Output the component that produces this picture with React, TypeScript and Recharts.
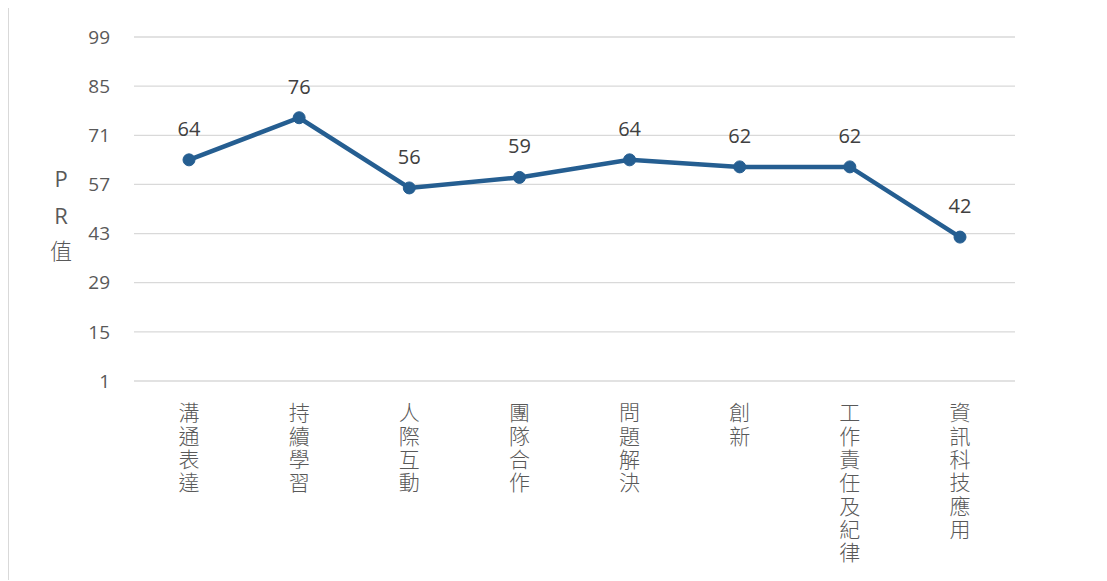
import React from "react";
import { LineChart, Line, XAxis, YAxis, CartesianGrid, LabelList } from "recharts";

const categories = ["溝通表達", "持續學習", "人際互動", "團隊合作", "問題解決", "創新", "工作責任及紀律", "資訊科技應用"];
const prValues = [64, 76, 56, 59, 64, 62, 62, 42];
const yTicks = [1, 15, 29, 43, 57, 71, 85, 99];

const data = categories.map((name, i) => ({ name, value: prValues[i] }));

const FONT = "'Open Sans', 'Noto Sans CJK TC', sans-serif";
const CJK = "'Noto Sans CJK TC', sans-serif";

const VerticalTick = (props: any) => {
  const { x, y, payload } = props;
  return (
    <text
      x={x}
      y={y + 13}
      style={{ writingMode: "vertical-rl" as any, letterSpacing: "2.3px" }}
      fontSize={21}
      fontWeight={300}
      fill="#595959"
      fontFamily={CJK}
    >
      {String(payload.value)}
    </text>
  );
};

export default function App() {
  return (
    <div
      style={{
        position: "relative",
        width: 1099,
        height: 573,
        marginTop: -1,
        border: "1px solid #d9d9d9",
        borderRight: "none",
        borderBottom: "none",
        boxSizing: "border-box",
        background: "#fff",
      }}
    >
      <div style={{ position: "absolute", left: -1, top: -1 }}>
        <LineChart width={1099} height={574} data={data} margin={{ top: 30, right: 92, left: 0, bottom: 0 }}>
          <CartesianGrid horizontal vertical={false} stroke="#d9d9d9" strokeWidth={1.3} />
          <XAxis
            dataKey="name"
            axisLine={false}
            tickLine={false}
            interval={0}
            height={200}
            padding={{ left: 55, right: 55 }}
            tick={<VerticalTick />}
          />
          <YAxis
            width={126}
            domain={[1, 99]}
            ticks={yTicks}
            axisLine={false}
            tickLine={false}
            tickMargin={18}
            tick={{ fontSize: 19, fill: "#595959", fontFamily: FONT }}
          />
          <Line
            type="linear"
            dataKey="value"
            stroke="#255E91"
            strokeWidth={4.5}
            dot={{ r: 6, fill: "#255E91", stroke: "#255E91", strokeWidth: 1 }}
            isAnimationActive={false}
          >
            <LabelList
              dataKey="value"
              position="top"
              offset={24}
              style={{ fontSize: 20, fill: "#404040", fontFamily: FONT }}
            />
          </Line>
        </LineChart>
      </div>
      <div
        style={{
          position: "absolute",
          left: 32,
          top: 152,
          width: 40,
          textAlign: "center",
          fontFamily: FONT,
          fontSize: 22,
          color: "#595959",
          lineHeight: "37px",
        }}
      >
        <div>P</div>
        <div>R</div>
        <div style={{ fontFamily: CJK, lineHeight: "30px", fontSize: 22, fontWeight: 300 }}>值</div>
      </div>
    </div>
  );
}
